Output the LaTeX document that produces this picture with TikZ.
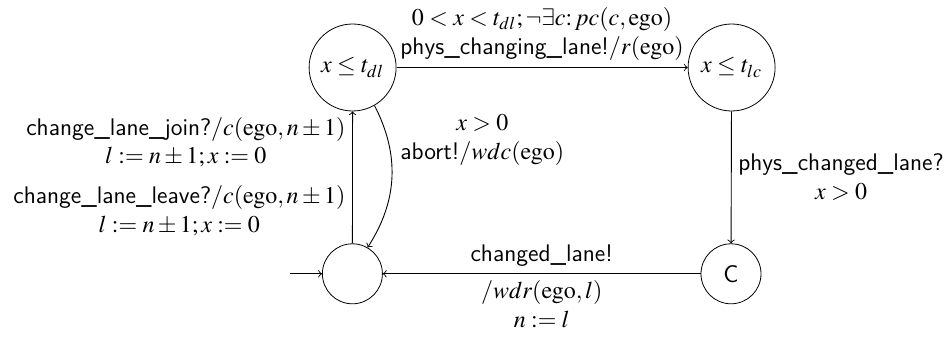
\documentclass[tikz,border=0pt]{standalone}
\usepackage{mathptmx}
\usetikzlibrary{arrows.meta}
\begin{document}
\begin{tikzpicture}[x=1pt,y=1pt,
  font=\fontsize{12}{14.4}\selectfont\sffamily,
  state/.style={circle,draw,inner sep=0pt,minimum size=30pt},
  bigstate/.style={state,minimum size=43.5pt},
  lbl/.style={inner sep=3.33pt,align=center},
  edge/.style={->,line width=0.45pt},
  >=to]
\useasboundingbox (0,0) rectangle (474.5,168.5);
\node[bigstate] (q0) at (176.3,134.75) {$x\le t_{dl}$};
\node[bigstate] (q1) at (365.8,134.75) {$x\le t_{lc}$};
\node[state] (q3) at (176.2,31.6) {};
\node[state] (q2) at (365.5,31.6) {C};
\coordinate (start) at (145,31.6);

\draw[edge] (q0) -- node[lbl,above] {$0<x<t_{dl};\neg\exists c\colon pc(c,\mathrm{ego})$\\ phys\_changing\_lane!$/r(\mathrm{ego})$} (q1);
\draw[edge] (q1) -- node[lbl,right] {phys\_changed\_lane?\\ $x>0$} (q2);
\draw[edge] (q2) -- node[lbl,above] {changed\_lane!}
                    node[lbl,below] {$/wdr(\mathrm{ego},l)$\\ $n:=l$} (q3);
\draw[edge] (q3) -- node[lbl,left,pos=0.767] {change\_lane\_join?$/c(\mathrm{ego},n\pm1)$\\ $l:=n\pm1;x:=0$}
                    node[lbl,left,pos=0.248] {change\_lane\_leave?$/c(\mathrm{ego},n\pm1)$\\ $l:=n\pm1;x:=0$} (q0);
\draw[edge] (q0) to[bend left=30] node[lbl,right,pos=0.22,xshift=3pt,yshift=-1pt] {$x>0$\\ abort!$/wdc(\mathrm{ego})$} (q3);
\draw[edge] (start) -- (q3);
\end{tikzpicture}
\end{document}
